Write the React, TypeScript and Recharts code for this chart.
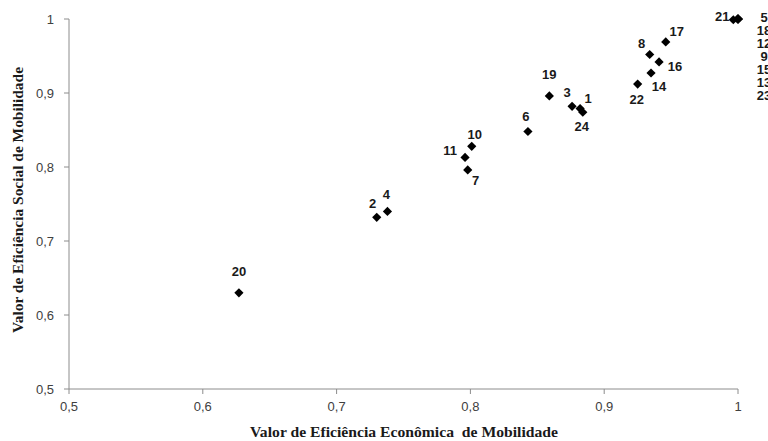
import { ScatterChart, Scatter, XAxis, YAxis } from "recharts";

// DMU ids and their efficiency scores
const ids = [1, 2, 3, 4, 5, 6, 7, 8, 9, 10, 11, 12, 13, 14, 15, 16, 17, 18, 19, 20, 21, 22, 23, 24];
const economic = [
  0.882, 0.73, 0.876, 0.738, 1, 0.843, 0.798, 0.934, 1, 0.801, 0.796, 1, 1, 0.935, 1, 0.941, 0.946,
  1, 0.859, 0.627, 0.9965, 0.925, 1, 0.884,
];
const social = [
  0.879, 0.732, 0.882, 0.74, 1, 0.848, 0.796, 0.952, 1, 0.828, 0.813, 1, 1, 0.927, 1, 0.942, 0.969,
  1, 0.896, 0.63, 0.999, 0.912, 1, 0.874,
];
const axisTicks = [0.5, 0.6, 0.7, 0.8, 0.9, 1];

// where each point label sits relative to its marker (px)
const labelOffsets: Record<number, [number, number]> = {
  1: [8, -10],
  2: [-4, -14],
  3: [-5, -14],
  4: [-1, -17],
  5: [26, -2],
  6: [-2, -15],
  7: [8, 11],
  8: [-8, -11],
  9: [26, 37],
  10: [3, -12],
  11: [-15, -7],
  12: [26, 24],
  13: [26, 63],
  14: [8, 13],
  15: [26, 50],
  16: [16, 5],
  17: [11, -10],
  18: [26, 11],
  19: [0, -21],
  20: [0, -21],
  21: [-11, -3],
  22: [-1, 15],
  23: [26, 76],
  24: [-1, 14],
};

const data = ids.map((id, i) => ({ id, x: economic[i], y: social[i] }));

const fmt = (v: number) => String(v).replace(".", ",");

const tickStyle = { fill: "#404040", fontSize: 13, fontFamily: "Liberation Sans, Arial, sans-serif" };

const Diamond = (props: any) => {
  const { cx, cy, payload } = props;
  if (cx == null || cy == null) return null;
  const r = 4.6;
  const [dx, dy] = labelOffsets[payload.id] || [0, -14];
  return (
    <g>
      <path d={`M${cx},${cy - r}L${cx + r},${cy}L${cx},${cy + r}L${cx - r},${cy}Z`} fill="#000" />
      <text
        x={cx + dx}
        y={cy + dy}
        textAnchor="middle"
        dominantBaseline="central"
        fontSize={13}
        fontWeight="bold"
        fontFamily="Liberation Sans, Arial, sans-serif"
        fill="#1a1a1a"
      >
        {payload.id}
      </text>
    </g>
  );
};

export default function App() {
  return (
    <div style={{ position: "absolute", left: 0, top: 0, width: 768, height: 441, background: "#fff" }}>
      <ScatterChart width={768} height={441} margin={{ top: 19, right: 30, bottom: 0, left: 0 }}>
        <XAxis
          type="number"
          dataKey="x"
          domain={[0.5, 1]}
          ticks={axisTicks}
          tickFormatter={fmt}
          height={52}
          tick={tickStyle}
          tickSize={5}
          tickMargin={8}
          axisLine={{ stroke: "#8c8c8c" }}
          tickLine={{ stroke: "#8c8c8c" }}
        />
        <YAxis
          type="number"
          dataKey="y"
          domain={[0.5, 1]}
          ticks={axisTicks}
          tickFormatter={fmt}
          width={69}
          tick={tickStyle}
          tickSize={5}
          tickMargin={10}
          axisLine={{ stroke: "#8c8c8c" }}
          tickLine={{ stroke: "#8c8c8c" }}
        />
        <Scatter data={data} shape={<Diamond />} isAnimationActive={false} />
      </ScatterChart>
      <svg
        width={768}
        height={441}
        style={{ position: "absolute", left: 0, top: 0, pointerEvents: "none" }}
      >
        <text
          x={404}
          y={432}
          textAnchor="middle"
          dominantBaseline="central"
          fontSize={14}
          fontWeight="bold"
          fontFamily="Liberation Serif, Times New Roman, serif"
          fill="#1a1a1a"
          textLength={308}
          lengthAdjust="spacingAndGlyphs"
          style={{ whiteSpace: "pre" }}
        >
          {"Valor de Eficiência Econômica  de Mobilidade"}
        </text>
        <text
          x={18}
          y={200}
          transform="rotate(-90 18 200)"
          textAnchor="middle"
          dominantBaseline="central"
          fontSize={14}
          fontWeight="bold"
          fontFamily="Liberation Serif, Times New Roman, serif"
          fill="#1a1a1a"
          textLength={266}
          lengthAdjust="spacingAndGlyphs"
        >
          Valor de Eficiência Social de Mobilidade
        </text>
      </svg>
    </div>
  );
}
